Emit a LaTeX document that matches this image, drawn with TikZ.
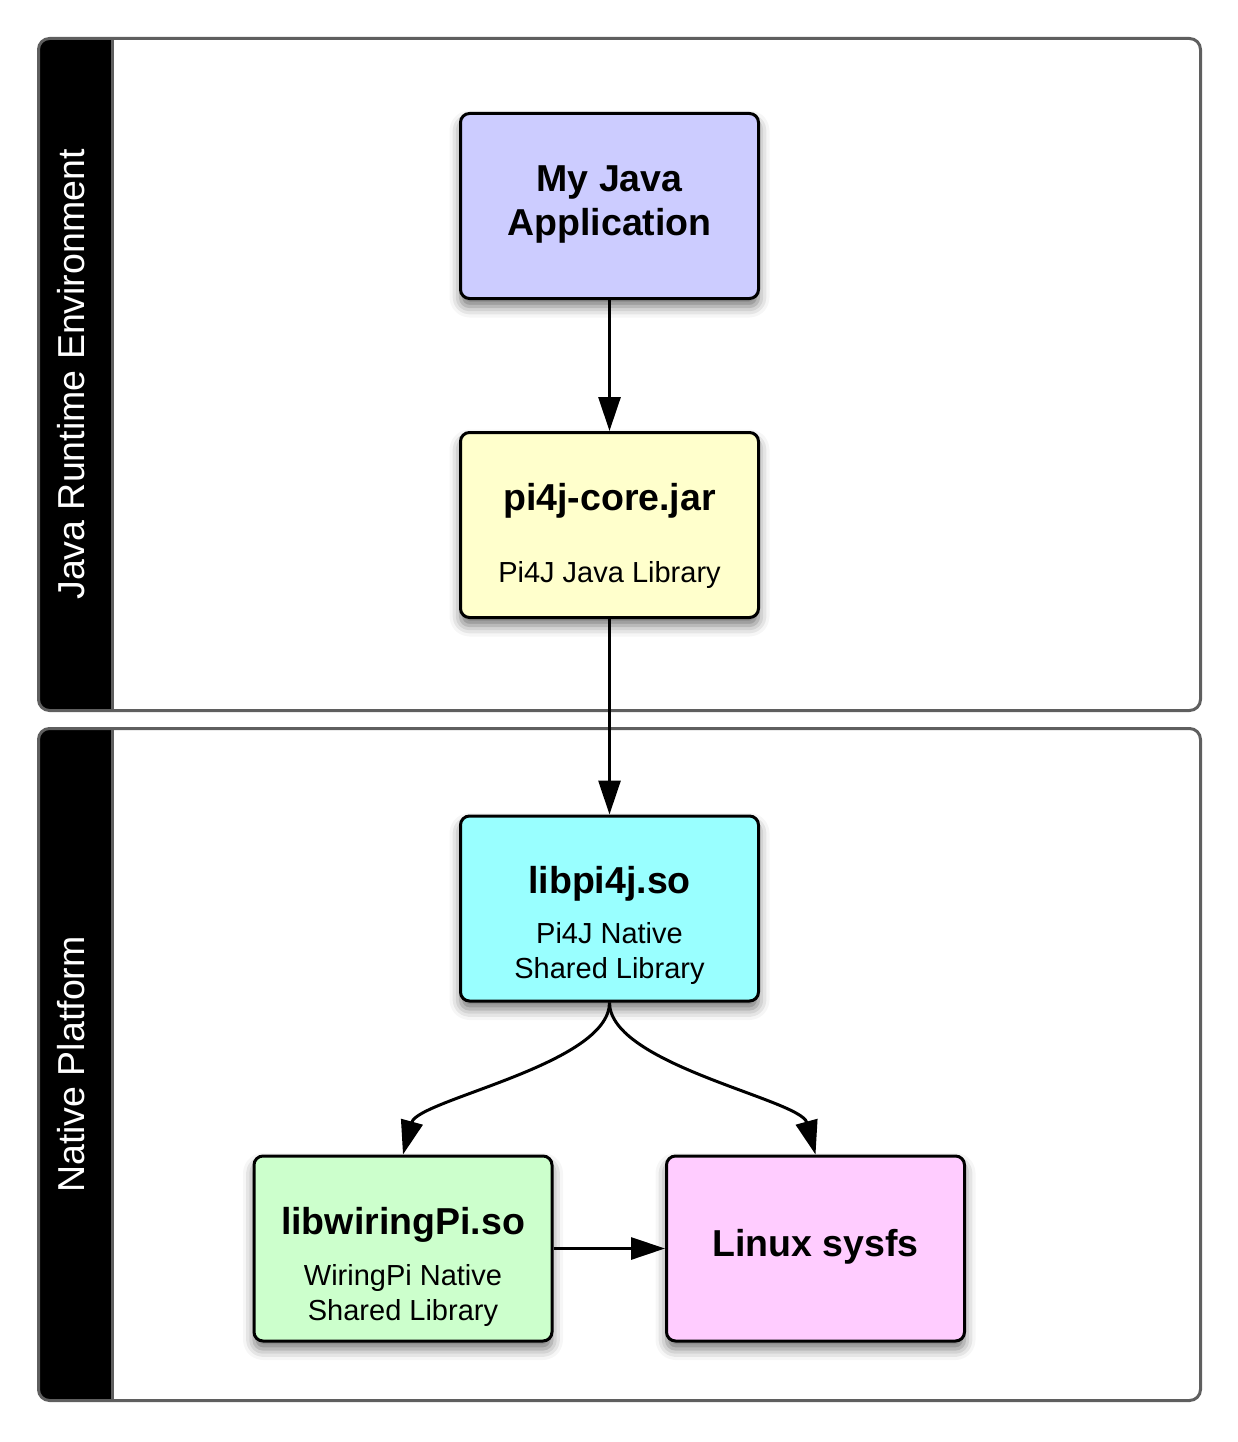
\documentclass[tikz,border=0pt]{standalone}
\usepackage{fontspec}
\setmainfont{Liberation Sans}
\usetikzlibrary{arrows.meta,shadows.blur,calc}
\definecolor{lanegray}{RGB}{95,95,95}
\definecolor{javafill}{RGB}{204,204,255}
\definecolor{corefill}{RGB}{255,255,204}
\definecolor{nativefill}{RGB}{153,255,255}
\definecolor{wiringfill}{RGB}{204,255,204}
\definecolor{sysfsfill}{RGB}{255,204,255}
\begin{document}
\begin{tikzpicture}[x=1pt,y=-1pt,
  box/.style={draw=black, line width=3pt, rounded corners=9pt,
    minimum width=298pt, minimum height=185pt, inner sep=0pt,
    blur shadow={shadow xshift=0pt, shadow yshift=-8pt, shadow blur radius=11pt, shadow opacity=55}},
  title/.style={font=\fontsize{37.5}{44}\selectfont\bfseries, anchor=base, inner sep=0pt},
  sub/.style={font=\fontsize{29}{35}\selectfont, anchor=base, inner sep=0pt},
  conn/.style={line width=3pt, -{Triangle[length=34pt,width=22pt]}},
  lanelabel/.style={text=white, rotate=90, font=\fontsize{37.5}{44}\selectfont, inner sep=0pt},
  laneborder/.style={draw=lanegray, line width=3pt, rounded corners=11pt}
]
\useasboundingbox (0,0) rectangle (1238,1442);

% lanes
\begin{scope}
  \clip[rounded corners=11pt] (38.5,38.5) rectangle (1200.5,710.5);
  \fill[black] (38.5,38.5) rectangle (112,710.5);
\end{scope}
\draw[laneborder] (38.5,38.5) rectangle (1200.5,710.5);
\draw[lanegray, line width=3pt] (112,38.5) -- (112,710.5);

\begin{scope}
  \clip[rounded corners=11pt] (38.5,728.5) rectangle (1200.5,1400.5);
  \fill[black] (38.5,728.5) rectangle (112,1400.5);
\end{scope}
\draw[laneborder] (38.5,728.5) rectangle (1200.5,1400.5);
\draw[lanegray, line width=3pt] (112,728.5) -- (112,1400.5);

\node[lanelabel] (jrelabel) at (71,374.5) {Java Runtime Environment};
\node[lanelabel] (nplabel) at (71,1064.5) {Native Platform};

% boxes
\node[box, fill=javafill] (java) at (609.5,206) {};
\node[box, fill=corefill] (core) at (609.5,525) {};
\node[box, fill=nativefill] (native) at (609.5,908.5) {};
\node[box, fill=wiringfill] (wiring) at (403,1248.5) {};
\node[box, fill=sysfsfill] (sysfs) at (815.5,1248.5) {};

% texts
\node[title] (javat1) at (609.5,192) {My Java};
\node[title] (javat2) at (609.5,235) {Application};
\node[title] (coret) at (609.5,510) {pi4j-core.jar};
\node[sub] (cores) at (609.5,582.5) {Pi4J Java Library};
\node[title] (nativet) at (609.5,893) {libpi4j.so};
\node[sub] (natives1) at (609.5,943) {Pi4J Native};
\node[sub] (natives2) at (609.5,978) {Shared Library};
\node[title] (wiringt) at (403,1234) {libwiringPi.so};
\node[sub] (wirings1) at (403,1285) {WiringPi Native};
\node[sub] (wirings2) at (403,1320) {Shared Library};
\node[title] (sysfst) at (815.5,1256) {Linux sysfs};

% connectors
\draw[conn] (java.south) -- (core.north);
\draw[conn] (core.south) -- (native.north);
\draw[conn] (native.south) .. controls ($(native.south)+(0,62)$) and ($(wiring.north)+(15,-55)$) .. (wiring.north);
\draw[conn] (native.south) .. controls ($(native.south)+(0,62)$) and ($(sysfs.north)+(-15,-55)$) .. (sysfs.north);
\draw[conn] (wiring.east) -- (sysfs.west);
\end{tikzpicture}
\end{document}
